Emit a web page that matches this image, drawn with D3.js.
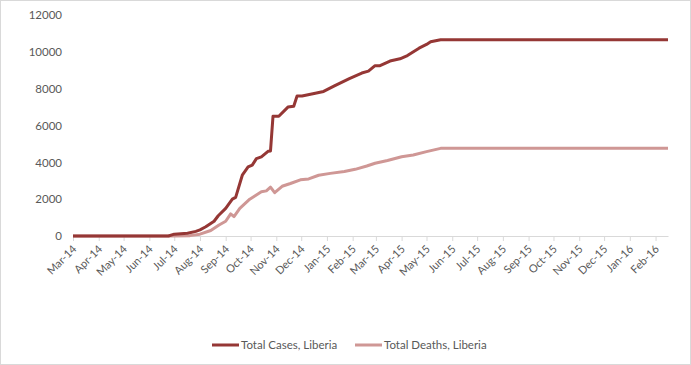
<!DOCTYPE html>
<html>
<head>
<meta charset="utf-8">
<script src="https://cdn.jsdelivr.net/npm/d3@7"></script>
<style>
  body { margin: 0; background: #fff; }
  svg text { font-family: Lato, "Liberation Sans", sans-serif; fill: #595959; }
</style>
</head>
<body>
<svg id="chart" width="691" height="365"></svg>
<script>
// Cumulative Ebola figures for Liberia
var caseDates = ["2014-03-01","2014-06-24","2014-07-01","2014-07-17","2014-07-27","2014-08-01","2014-08-08",
  "2014-08-18","2014-08-23","2014-09-01","2014-09-09","2014-09-13","2014-09-21","2014-09-28","2014-10-03",
  "2014-10-08","2014-10-14","2014-10-22","2014-10-25","2014-10-28","2014-11-04","2014-11-15","2014-11-22",
  "2014-11-26","2014-12-02","2014-12-18","2014-12-28","2015-01-10","2015-01-28","2015-02-12","2015-02-20",
  "2015-02-28","2015-03-06","2015-03-18","2015-03-30","2015-04-08","2015-04-22","2015-05-01","2015-05-06",
  "2015-05-18","2016-02-16"];
var caseValues = [0,0,100,150,250,330,500,
  800,1100,1500,2000,2100,3300,3750,3850,
  4200,4300,4600,4620,6500,6500,7000,7050,
  7600,7600,7750,7850,8150,8550,8850,8950,
  9250,9250,9500,9620,9800,10200,10400,10550,
  10660,10660];

var deathDates = ["2014-03-01","2014-07-01","2014-07-20","2014-08-01","2014-08-14","2014-08-24","2014-09-01",
  "2014-09-07","2014-09-11","2014-09-18","2014-09-30","2014-10-07","2014-10-14","2014-10-20","2014-10-25",
  "2014-10-30","2014-11-08","2014-11-18","2014-11-30","2014-12-10","2014-12-22","2015-01-05","2015-01-22",
  "2015-02-04","2015-02-18","2015-02-28","2015-03-15","2015-04-01","2015-04-15","2015-05-01","2015-05-18",
  "2016-02-16"];
var deathValues = [0,0,20,100,300,600,800,
  1200,1050,1500,2000,2200,2400,2450,2650,
  2350,2700,2850,3050,3100,3300,3400,3500,
  3620,3800,3950,4100,4300,4400,4580,4760,
  4760];

var yTicks = [0, 2000, 4000, 6000, 8000, 10000, 12000];
var seriesNames = ["Total Cases, Liberia", "Total Deaths, Liberia"];
var seriesColors = ["#953735", "#cf9795"];

var parse = d3.timeParse("%Y-%m-%d");
var margin = {left: 73, right: 23, top: 15, bottom: 129};
var width = 691, height = 365;

var svg = d3.select("#chart");

svg.append("rect")
  .attr("x", 0.5).attr("y", 0.5)
  .attr("width", width - 1).attr("height", height - 1)
  .attr("fill", "#fff").attr("stroke", "#d9d9d9");

var x = d3.scaleTime()
  .domain([parse("2014-03-01"), parse("2016-02-16")])
  .range([margin.left, width - margin.right]);

var y = d3.scaleLinear()
  .domain([0, 12000])
  .range([height - margin.bottom, margin.top]);

// y axis: labels only
svg.append("g")
  .attr("transform", `translate(${margin.left - 11},0)`)
  .call(d3.axisLeft(y).tickValues(yTicks).tickFormat(d3.format("d")).tickSize(0).tickPadding(0))
  .call(g => g.select(".domain").remove())
  .call(g => g.selectAll("text")
    .style("font-size", "11.5px")
    .attr("fill", "#595959"));

// x axis with monthly ticks
var months = d3.timeMonth.range(parse("2014-03-01"), parse("2016-02-17"));
var xAxis = svg.append("g")
  .attr("transform", `translate(0,${y(0)})`)
  .call(d3.axisBottom(x).tickValues(months).tickFormat(d3.timeFormat("%b-%y")).tickSize(5).tickSizeOuter(0));
xAxis.select(".domain").attr("stroke", "#d9d9d9");
xAxis.selectAll(".tick line").attr("stroke", "#d9d9d9");
xAxis.selectAll("text")
  .style("font-size", "11px")
  .attr("fill", "#595959")
  .attr("text-anchor", "end")
  .attr("dy", "0.35em")
  .attr("transform", "translate(1,11) rotate(-45)")
  .attr("y", 0).attr("x", 0);

var line = d3.line()
  .x(d => x(d[0]))
  .y(d => y(d[1]));

var series = [
  d3.zip(caseDates.map(parse), caseValues),
  d3.zip(deathDates.map(parse), deathValues)
];

// deaths under cases
[1, 0].forEach(function(i) {
  svg.append("path")
    .datum(series[i])
    .attr("fill", "none")
    .attr("stroke", seriesColors[i])
    .attr("stroke-width", 3)
    .attr("stroke-linejoin", "round")
    .attr("d", line);
});

// legend
var legendX = [212, 355];
var legend = svg.append("g");
seriesNames.forEach(function(name, i) {
  legend.append("line")
    .attr("x1", legendX[i]).attr("x2", legendX[i] + 27)
    .attr("y1", 345).attr("y2", 345)
    .attr("stroke", seriesColors[i]).attr("stroke-width", 3);
  legend.append("text")
    .attr("x", legendX[i] + 29).attr("y", 345)
    .attr("dy", "0.35em")
    .style("font-size", "11.5px")
    .text(name);
});
</script>
</body>
</html>
